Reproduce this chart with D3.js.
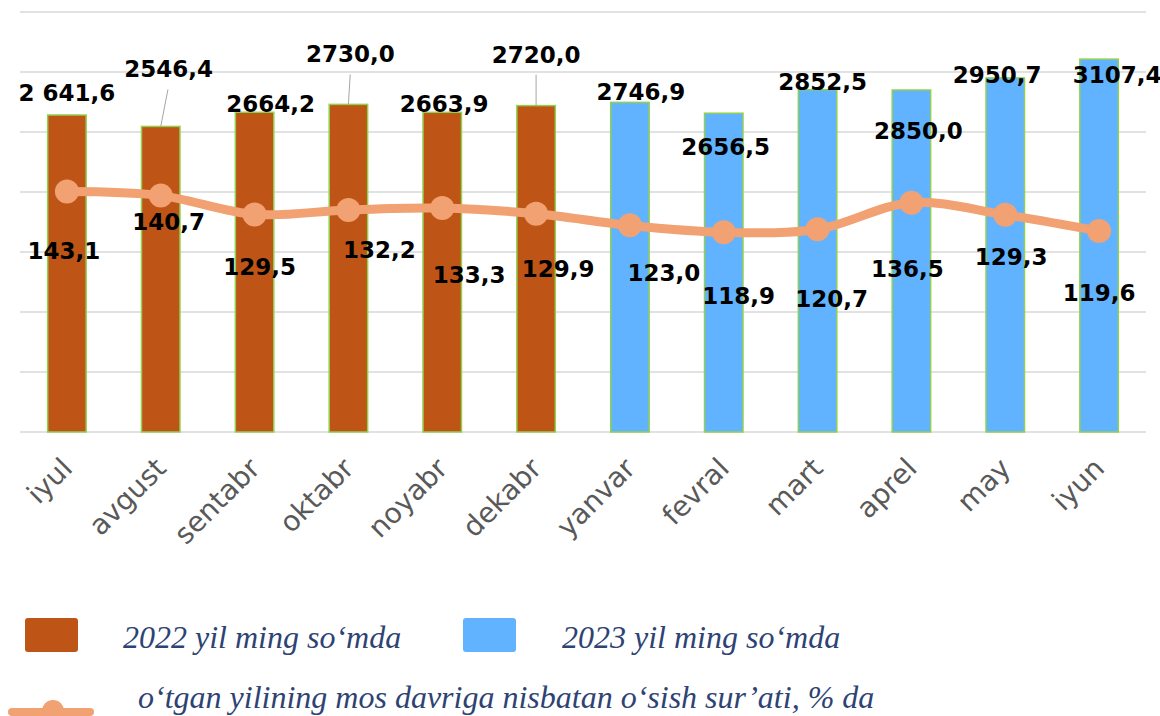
<!DOCTYPE html>
<html>
<head>
<meta charset="utf-8">
<script src="https://cdn.jsdelivr.net/npm/d3@7"></script>
<style>
  html, body { margin: 0; padding: 0; background: #fff; }
  svg { display: block; }
</style>
</head>
<body>
<svg id="chart" width="1160" height="716"></svg>
<script>
// data
const months = ["iyul", "avgust", "sentabr", "oktabr", "noyabr", "dekabr",
  "yanvar", "fevral", "mart", "aprel", "may", "iyun"];
const values2022 = [2641.6, 2546.4, 2664.2, 2730.0, 2663.9, 2720.0];
const values2023 = [2746.9, 2656.5, 2852.5, 2850.0, 2950.7, 3107.4];
const barLabels = ["2 641,6", "2546,4", "2664,2", "2730,0", "2663,9", "2720,0",
  "2746,9", "2656,5", "2852,5", "2850,0", "2950,7", "3107,4"];
const growth = [143.1, 140.7, 129.5, 132.2, 133.3, 129.9, 123.0, 118.9, 120.7, 136.5, 129.3, 119.6];
const legendNames = ["2022 yil ming so\u2018mda", "2023 yil ming so\u2018mda",
  "o\u2018tgan yilining mos davriga nisbatan o\u2018sish sur\u2019ati, % da"];

// label placement (manual, as in the source chart)
const barLabelOff = [[0, -14], [8, -49], [16, 0], [2, -42], [2, 0], [0, -43],
  [11, -2], [2, 42], [5, 0], [7, 49], [-8, 5], [18, 24]];
const leaderLines = [1, 3, 5];
const lineLabelOff = [[-3, 67], [8, 34], [5, 61], [31, 48], [27, 75], [22, 63],
  [34, 56], [15, 72], [14, 78], [-4, 74], [6, 50], [0, 70]];

const col2022 = "#BE5516";
const col2023 = "#62B3FF";
const colLine = "#F1A172";
const colBarStroke = "#92D050";
const colLegend = "#2E4373";

const rows = months.map((m, i) => ({
  month: m,
  value: i < 6 ? values2022[i] : values2023[i - 6],
  year: i < 6 ? 2022 : 2023,
  label: barLabels[i],
  growth: growth[i]
}));

const svg = d3.select("#chart");
const plotLeft = 20, plotRight = 1146, plotTop = 12, plotBottom = 432;

const x = d3.scaleBand().domain(months).range([plotLeft, plotRight])
  .paddingInner(0.59).paddingOuter(0.295);
const y = d3.scaleLinear().domain([0, 3500]).range([plotBottom, plotTop]);
const y2 = d3.scaleLinear().domain([0, 250]).range([plotBottom, plotTop]);
const cx = (d) => x(d.month) + x.bandwidth() / 2;

// grid
svg.append("g")
  .selectAll("line")
  .data(y.ticks(7))
  .join("line")
  .attr("x1", plotLeft).attr("x2", plotRight)
  .attr("y1", (d) => y(d)).attr("y2", (d) => y(d))
  .attr("stroke", "#D9D9D9")
  .attr("stroke-width", 1.5);

// bars
svg.append("g")
  .selectAll("rect")
  .data(rows)
  .join("rect")
  .attr("x", (d) => x(d.month))
  .attr("y", (d) => y(d.value))
  .attr("width", x.bandwidth())
  .attr("height", (d) => y(0) - y(d.value))
  .attr("fill", (d) => d.year == 2022 ? col2022 : col2023)
  .attr("stroke", colBarStroke)
  .attr("stroke-width", 1.5);

// x labels
svg.append("g")
  .selectAll("text")
  .data(months)
  .join("text")
  .attr("transform", (d) => `translate(${x(d) + x.bandwidth() / 2 + 7},${470}) rotate(-45)`)
  .attr("text-anchor", "end")
  .attr("font-family", "'DejaVu Sans', sans-serif")
  .attr("font-size", "28px")
  .attr("fill", "#595959")
  .text((d) => d);

// growth line
const line = d3.line()
  .x((d) => cx(d))
  .y((d) => y2(d.growth))
  .curve(d3.curveCatmullRom.alpha(0.5));

svg.append("path")
  .datum(rows)
  .attr("d", line)
  .attr("fill", "none")
  .attr("stroke", colLine)
  .attr("stroke-width", 9)
  .attr("stroke-linecap", "round");

svg.append("g")
  .selectAll("circle")
  .data(rows)
  .join("circle")
  .attr("cx", cx)
  .attr("cy", (d) => y2(d.growth))
  .attr("r", 12)
  .attr("fill", colLine);

// leader lines
svg.append("g")
  .selectAll("line")
  .data(rows.filter((d, i) => leaderLines.includes(i)))
  .join("line")
  .attr("x1", (d) => cx(d) + barLabelOff[months.indexOf(d.month)][0] * 0.9)
  .attr("y1", (d) => y(d.value) + barLabelOff[months.indexOf(d.month)][1] + 12)
  .attr("x2", cx)
  .attr("y2", (d) => y(d.value))
  .attr("stroke", "#A6A6A6")
  .attr("stroke-width", 1);

// bar labels
svg.append("g")
  .selectAll("text")
  .data(rows)
  .join("text")
  .attr("x", (d, i) => cx(d) + barLabelOff[i][0])
  .attr("y", (d, i) => y(d.value) + barLabelOff[i][1])
  .attr("text-anchor", "middle")
  .attr("font-family", "'DejaVu Sans', sans-serif")
  .attr("font-weight", "bold")
  .attr("font-size", "23px")
  .attr("fill", "#000")
  .text((d) => d.label);

// growth labels
svg.append("g")
  .selectAll("text")
  .data(rows)
  .join("text")
  .attr("x", (d, i) => cx(d) + lineLabelOff[i][0])
  .attr("y", (d, i) => y2(d.growth) + lineLabelOff[i][1])
  .attr("text-anchor", "middle")
  .attr("font-family", "'DejaVu Sans', sans-serif")
  .attr("font-weight", "bold")
  .attr("font-size", "23px")
  .attr("fill", "#000")
  .text((d) => String(d.growth.toFixed(1)).replace(".", ","));

// legend
const leg = svg.append("g");
[[25, col2022, 123, legendNames[0]], [463, col2023, 562, legendNames[1]]].forEach(([sx, c, tx, t]) => {
  leg.append("rect")
    .attr("x", sx).attr("y", 618)
    .attr("width", 53).attr("height", 34)
    .attr("rx", 3)
    .attr("fill", c);
  leg.append("text")
    .attr("x", tx).attr("y", 648)
    .attr("font-family", "'Liberation Serif', serif")
    .attr("font-style", "italic")
    .attr("font-size", "32px")
    .attr("fill", colLegend)
    .text(t);
});

leg.append("line")
  .attr("x1", 12).attr("x2", 90)
  .attr("y1", 712).attr("y2", 712)
  .attr("stroke", colLine)
  .attr("stroke-width", 8)
  .attr("stroke-linecap", "round");
leg.append("circle")
  .attr("cx", 53).attr("cy", 711)
  .attr("r", 11)
  .attr("fill", colLine);
leg.append("text")
  .attr("x", 138).attr("y", 708)
  .attr("font-family", "'Liberation Serif', serif")
  .attr("font-style", "italic")
  .attr("font-size", "32px")
  .attr("fill", colLegend)
  .text(legendNames[2]);
</script>
</body>
</html>
